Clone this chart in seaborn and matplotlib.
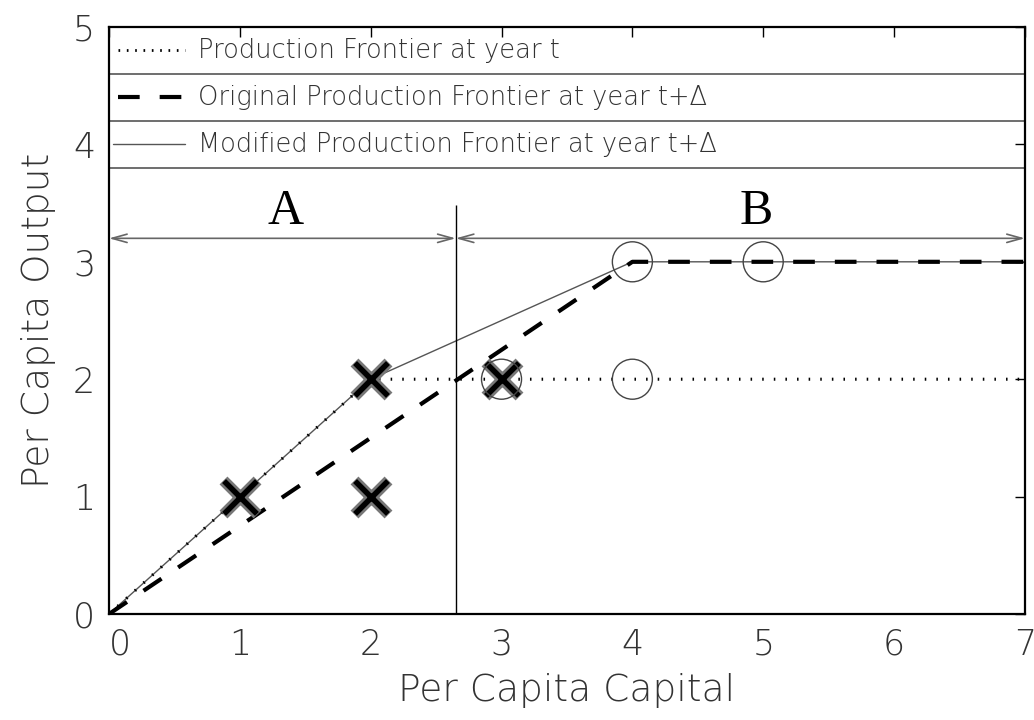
import matplotlib
matplotlib.use("Agg")
import matplotlib.pyplot as plt
import seaborn as sns
import pandas as pd

# frontier lines (per capita capital, per capita output)
cap_t = [0, 1, 2, 7]
out_t = [0, 1, 2, 2]
cap_orig = [0, 4, 7]
out_orig = [0, 3, 3]
cap_mod = [0, 1, 2, 4, 7]
out_mod = [0, 1, 2, 3, 3]

# observed points
cross_cap = [1, 2, 2, 3]
cross_out = [1, 2, 1, 2]
circ_cap = [3, 4, 4, 5]
circ_out = [2, 2, 3, 3]

legend_labels = ["Production Frontier at year t",
                 "Original Production Frontier at year t+\u0394",
                 "Modified Production Frontier at year t+\u0394"]
x_ticks = [0, 1, 2, 3, 4, 5, 6, 7]
y_ticks = [0, 1, 2, 3, 4, 5]
split_x = 2.65
arrow_y = 3.2
region_names = ["A", "B"]
region_x = [1.35, 4.95]

sns.set_theme(style="white")
plt.rcParams["font.family"] = ["DejaVu Sans"]
txt = "#333333"
dotted = (0, (0.5, 3.3))
dashed = (0, (5.2, 4.8))

fig = plt.figure(figsize=(10.34, 7.2), dpi=100)
ax = fig.add_axes([0.1054, 0.1472, 0.8858, 0.8153])

sns.lineplot(x=cap_mod, y=out_mod, sort=False, color="#555555", lw=1, ax=ax)
sns.lineplot(x=cap_orig, y=out_orig, sort=False, color="black", lw=3,
             linestyle=dashed, ax=ax)
sns.lineplot(x=cap_t, y=out_t, sort=False, color="black", lw=2.2,
             linestyle=dotted, ax=ax)

# observed points
sns.scatterplot(x=cross_cap, y=cross_out, marker="x", s=600, color="#777777",
                linewidth=8, ax=ax, zorder=5)
sns.scatterplot(x=cross_cap, y=cross_out, marker="x", s=560, color="black",
                linewidth=4, ax=ax, zorder=6)
sns.scatterplot(x=circ_cap, y=circ_out, marker="o", s=830, facecolor="none",
                edgecolor="#444444", linewidth=1, ax=ax, zorder=7)

# split between regions A and B
ax.vlines(split_x, 0, 3.48, color="black", lw=1)
ax.annotate("", xy=(0, arrow_y), xytext=(split_x, arrow_y),
            arrowprops=dict(arrowstyle="<->,head_length=0.9,head_width=0.25",
                            color="#666666", lw=1.2, shrinkA=0, shrinkB=0))
ax.annotate("", xy=(split_x, arrow_y), xytext=(7, arrow_y),
            arrowprops=dict(arrowstyle="<->,head_length=0.9,head_width=0.25",
                            color="#666666", lw=1.2, shrinkA=0, shrinkB=0))
for name, rx in zip(region_names, region_x):
    ax.text(rx, 3.43, name, ha="center", va="center", fontsize=36,
            family="Liberation Serif", color="black")

# legend panel inside the top of the axes
for yy in [4.6, 4.2, 3.8]:
    ax.axhline(yy, color="#555555", lw=1.2)
row_y = [4.8, 4.4, 4.0]
ax.plot([0.07, 0.58], [row_y[0]] * 2, color="black", lw=2,
        linestyle=(0, (0.6, 2.4)))
ax.plot([0.07, 0.58], [row_y[1]] * 2, color="black", lw=3,
        linestyle=dashed)
ax.plot([0.03, 0.58], [row_y[2]] * 2, color="#555555", lw=1)
for ry, lab in zip(row_y, legend_labels):
    ax.text(0.68, ry, lab, ha="left", va="center", fontsize=18.5,
            color=txt, fontweight="light")

ax.set_xlim(0, 7)
ax.set_ylim(0, 5)
ax.set_xticks(x_ticks)
ax.set_yticks(y_ticks)
ax.tick_params(direction="in", length=7, width=1, top=True, right=True,
               labelsize=25, pad=10, colors="black")
for lab in ax.get_xticklabels() + ax.get_yticklabels():
    lab.set_color(txt)
    lab.set_fontweight("light")
ax.get_xticklabels()[0].set_horizontalalignment("left")
for sp in ax.spines.values():
    sp.set_color("black")
    sp.set_linewidth(1.6)
ax.set_xlabel("Per Capita Capital", fontsize=27, color=txt,
              fontweight="light", labelpad=8)
ax.set_ylabel("Per Capita Output", fontsize=27, color=txt,
              fontweight="light", labelpad=12)

fig.savefig("out.png", dpi=100)
